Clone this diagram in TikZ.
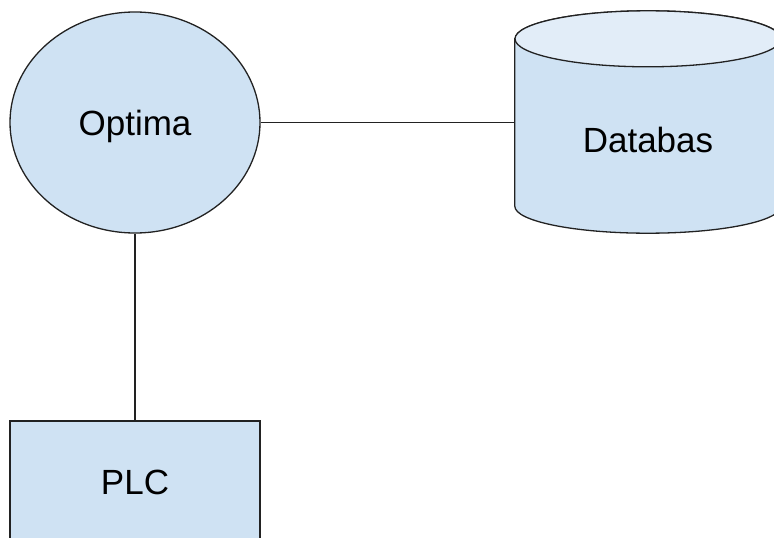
\documentclass[tikz,border=0pt]{standalone}
\usepackage{fontspec}
\setmainfont{Liberation Sans}
\usepackage{tikz}
\usetikzlibrary{shapes.geometric}
\usepackage{xcolor}
\definecolor{boxblue}{HTML}{CFE2F3}
\definecolor{capblue}{HTML}{E2EDF8}
\definecolor{edge}{HTML}{222222}

\begin{document}
\begin{tikzpicture}[x=1pt,y=-1pt]
    \tikzstyle{lbl} = [font=\fontsize{35}{42}\selectfont]
    \tikzstyle{part} = [draw=edge, line width=1.3pt, fill=boxblue, inner sep=0pt, lbl]
    \tikzstyle{e} = [draw=edge, line width=1.3pt]
    \useasboundingbox (0,0) rectangle (774,538);
    \clip (0,0) rectangle (774,538);
    \begin{scope}[shift={(0,0)}]
        \node[part, ellipse, text depth=0pt, minimum width=250pt, minimum height=221pt] (opt) at (135,122.5) {Optima};
        \node[part, rectangle, minimum width=250pt, minimum height=122pt] (plc) at (135,482) {PLC};
        % database cylinder
        \node[rectangle, minimum width=266pt, minimum height=167pt, inner sep=0pt] (db) at (648,122.5) {};
        \filldraw[e, fill=boxblue] (db.north west) -- (db.south west)
            arc[start angle=180, end angle=360, x radius=133pt, y radius=27pt]
            -- (db.north east)
            arc[start angle=0, end angle=180, x radius=133pt, y radius=28pt] -- cycle;
        \filldraw[e, fill=capblue] (db.north) ellipse [x radius=133pt, y radius=28pt];
        \node[lbl] (dbtext) at (648,140) {Databas};
        \draw [e] (opt) -- (db.west);
        \draw [e] (opt) -- (plc);
      \end{scope}
    \end{tikzpicture}
\end{document}
